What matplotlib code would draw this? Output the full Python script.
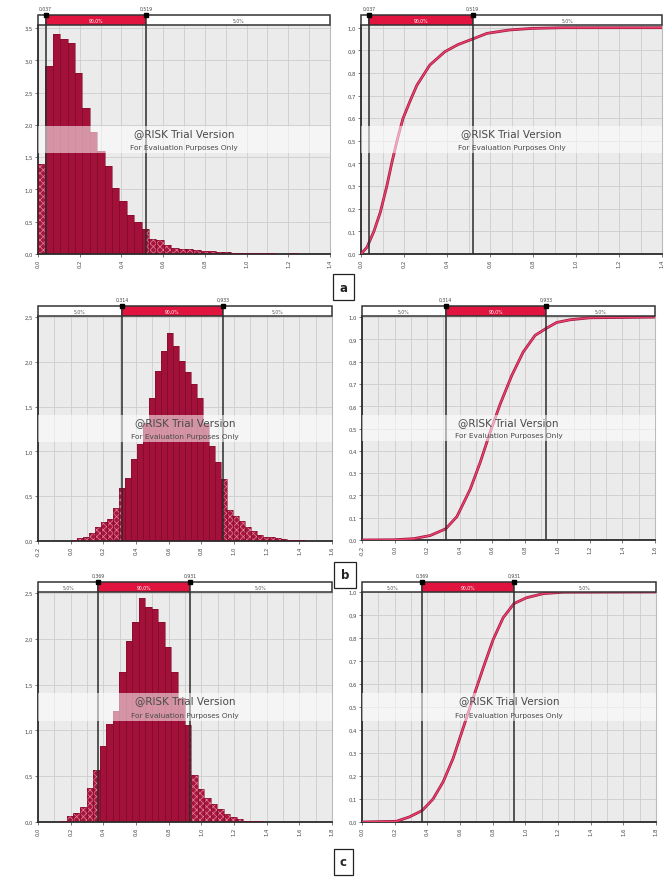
import numpy as np
import matplotlib.pyplot as plt
from matplotlib.patches import Rectangle

plt.rcParams['font.family'] = ['DejaVu Sans']
plt.rcParams['hatch.linewidth'] = 0.5

# Histogramas: inicio del primer intervalo, ancho y densidad de cada barra
a_inicio, a_ancho = 0.0, 0.0355
a_dens = [1.40, 2.92, 3.41, 3.34, 3.27, 2.80, 2.26, 1.89, 1.60, 1.37,
          1.03, 0.82, 0.60, 0.49, 0.39, 0.24, 0.21, 0.14, 0.10, 0.08,
          0.08, 0.06, 0.04, 0.04, 0.03, 0.03, 0.02, 0.02, 0.015, 0.01,
          0.01, 0.01, 0.006, 0.006, 0.01, 0.005, 0.003, 0.003]
b_inicio, b_ancho = -0.035, 0.0367
b_dens = [0.005, 0.01, 0.03, 0.05, 0.09, 0.16, 0.21, 0.25, 0.37, 0.59,
          0.70, 0.91, 1.08, 1.32, 1.60, 1.90, 2.12, 2.32, 2.18, 2.01,
          1.89, 1.75, 1.59, 1.31, 1.06, 0.88, 0.69, 0.35, 0.28, 0.22,
          0.16, 0.11, 0.07, 0.05, 0.04, 0.03, 0.02, 0.015, 0.01, 0.008]
c_inicio, c_ancho = 0.137, 0.04
c_dens = [0.01, 0.07, 0.10, 0.16, 0.37, 0.57, 0.83, 1.07, 1.21, 1.64,
          1.98, 2.18, 2.44, 2.35, 2.32, 2.18, 1.91, 1.64, 1.35, 1.06,
          0.51, 0.36, 0.26, 0.20, 0.14, 0.09, 0.05, 0.03, 0.015, 0.01,
          0.008, 0.005]

# Curvas acumuladas
a_cdf_x = [0.0, 0.028, 0.06, 0.09, 0.12, 0.144, 0.17, 0.195, 0.23, 0.26,
           0.32, 0.39, 0.45, 0.519, 0.586, 0.69, 0.795, 0.94, 1.1, 1.4]
a_cdf_y = [0.0, 0.03, 0.10, 0.185, 0.30, 0.406, 0.51, 0.598, 0.68, 0.746,
           0.835, 0.894, 0.925, 0.95, 0.975, 0.99, 0.997, 1.0, 1.0, 1.0]
b_cdf_x = [-0.2, 0.0, 0.117, 0.219, 0.314, 0.383, 0.465, 0.526, 0.587,
           0.649, 0.72, 0.79, 0.863, 0.933, 0.996, 1.078, 1.2, 1.6]
b_cdf_y = [0.0, 0.001, 0.006, 0.02, 0.05, 0.105, 0.228, 0.348, 0.483,
           0.61, 0.738, 0.843, 0.918, 0.95, 0.976, 0.988, 0.997, 1.0]
c_cdf_x = [0.0, 0.21, 0.29, 0.369, 0.435, 0.497, 0.558, 0.619, 0.68,
           0.742, 0.803, 0.864, 0.931, 1.007, 1.11, 1.232, 1.8]
c_cdf_y = [0.0, 0.003, 0.022, 0.05, 0.10, 0.175, 0.277, 0.408, 0.539,
           0.67, 0.793, 0.888, 0.95, 0.975, 0.993, 0.999, 1.0]

# Percentiles 5% y 95%
a_p5, a_p95 = 0.037, 0.519
b_p5, b_p95 = 0.314, 0.933
c_p5, c_p95 = 0.369, 0.931
etiquetas_banda = ['5,0%', '90,0%', '5,0%']

W, H = 666, 879
rojo = '#a3113a'
rojo_banda = '#e0143f'
fig = plt.figure(figsize=(W / 100, H / 100), dpi=100)


def caja(x0, y0, x1, y1):
    return [x0 / W, 1 - y1 / H, (x1 - x0) / W, (y1 - y0) / H]


def coma(v):
    return ('%.1f' % v).replace('.', ',')


def ejes(x0, y0, x1, y1, xlim, ylim, ydiv, p5, p95):
    ax = fig.add_axes(caja(x0, y0, x1, y1))
    ax.set_facecolor('#ebebeb')
    ax.set_xlim(xlim)
    ax.set_ylim(ylim)
    xt = np.arange(xlim[0], xlim[1] + 0.01, 0.2)
    ax.set_xticks(xt)
    ax.set_xticklabels([coma(v) for v in xt], rotation=90)
    ax.set_xticks(np.arange(xlim[0], xlim[1] + 0.01, 0.1), minor=True)
    yt = np.arange(0, ylim[1] + 0.001, ydiv)
    ax.set_yticks(yt)
    ax.set_yticklabels([coma(v) for v in yt])
    ax.tick_params(labelsize=3.8, colors='#444', length=2, width=0.5, pad=1.5)
    ax.tick_params(which='minor', length=0)
    ax.grid(which='both', color='#cdcdcd', lw=0.6)
    ax.set_axisbelow(True)
    for s in ['left', 'bottom']:
        ax.spines[s].set_color('#2a2a2a')
        ax.spines[s].set_linewidth(1.3)
    ax.spines['top'].set_visible(False)
    ax.spines['right'].set_color('#bbbbbb')
    ax.axvline(p5, color='#2a2a2a', lw=1.1, zorder=4)
    ax.axvline(p95, color='#2a2a2a', lw=1.1, zorder=4)

    # marca de agua
    ax.add_patch(Rectangle((0, 0.44), 1, 0.12, transform=ax.transAxes,
                           color='white', alpha=0.55, lw=0, zorder=5))
    ax.text(0.5, 0.528, '@RISK Trial Version', transform=ax.transAxes,
            ha='center', va='center', fontsize=7.5, color='#4a4a4a', zorder=6)
    ax.text(0.5, 0.467, 'For Evaluation Purposes Only', transform=ax.transAxes,
            ha='center', va='center', fontsize=5.3, color='#4a4a4a', zorder=6)

    # banda de percentiles
    bd = fig.add_axes(caja(x0, y0 - 10, x1, y0))
    bd.set_xlim(xlim)
    bd.set_ylim(0, 1)
    bd.axis('off')
    tramos = [(xlim[0], p5, 'white', '#555'), (p5, p95, rojo_banda, 'white'),
              (p95, xlim[1], 'white', '#555')]
    for (t0, t1, fc, tc), txt in zip(tramos, etiquetas_banda):
        bd.add_patch(Rectangle((t0, 0), t1 - t0, 1, fc=fc, ec='#333', lw=1.1,
                               clip_on=False))
        if t1 - t0 > 0.08:
            bd.text((t0 + t1) / 2, 0.5, txt, ha='center', va='center',
                    fontsize=3.3, color=tc)
    for p in (p5, p95):
        bd.plot([p], [1], 's', ms=2.6, color='black', clip_on=False)
        bd.text(p, 1.45, ('%.3f' % p).replace('.', ','), ha='center',
                va='bottom', fontsize=3.3, color='#444')
    return ax


def histograma(ax, inicio, ancho, dens, p5, p95):
    bordes = inicio + ancho * np.arange(len(dens) + 1)
    for i, h in enumerate(dens):
        x0, x1 = bordes[i], bordes[i + 1]
        li, ld = max(x0, p5), min(x1, p95)
        if ld > li:
            ax.bar(li, h, ld - li, align='edge', color=rojo, lw=0, zorder=2)
        if x0 < p5:
            ax.bar(x0, h, min(x1, p5) - x0, align='edge', facecolor='#a8153d',
                   edgecolor='#e27f9b', hatch='xxxxx', lw=0, zorder=2)
        if x1 > p95:
            ax.bar(max(x0, p95), h, x1 - max(x0, p95), align='edge',
                   facecolor='#a8153d', edgecolor='#e27f9b', hatch='xxxxx',
                   lw=0, zorder=2)
    ax.bar(bordes[:-1], dens, ancho, align='edge', fill=False,
           edgecolor='#7d0d28', lw=0.4, zorder=3)


def acumulada(ax, xs, ys):
    ax.plot(xs, ys, color='#9a1840', lw=2.0, zorder=3)
    ax.plot(xs, ys, color='#f0406e', lw=1.0, zorder=3)


# fila a
ax1 = ejes(38, 26, 330, 255, (0.0, 1.4), (0, 3.55), 0.5, a_p5, a_p95)
histograma(ax1, a_inicio, a_ancho, a_dens, a_p5, a_p95)
ax2 = ejes(361, 26, 662, 255, (0.0, 1.4), (0, 1.012), 0.1, a_p5, a_p95)
acumulada(ax2, a_cdf_x, a_cdf_y)

# fila b
ax3 = ejes(38, 317, 332, 542, (-0.2, 1.6), (0, 2.51), 0.5, b_p5, b_p95)
histograma(ax3, b_inicio, b_ancho, b_dens, b_p5, b_p95)
ax4 = ejes(362, 317, 655, 541, (-0.2, 1.6), (0, 1.005), 0.1, b_p5, b_p95)
acumulada(ax4, b_cdf_x, b_cdf_y)

# fila c
ax5 = ejes(38, 593, 332, 823, (0.0, 1.8), (0, 2.51), 0.5, c_p5, c_p95)
histograma(ax5, c_inicio, c_ancho, c_dens, c_p5, c_p95)
ax6 = ejes(362, 593, 656, 823, (0.0, 1.8), (0, 1.0), 0.1, c_p5, c_p95)
acumulada(ax6, c_cdf_x, c_cdf_y)

# letras de cada fila
for letra, (cx, cy) in zip('abc', [(343.5, 288), (345, 576), (343.5, 863)]):
    fig.text(cx / W, 1 - cy / H, letra, ha='center', va='center',
             fontsize=8.5, fontweight='bold', color='#222',
             bbox=dict(boxstyle='square,pad=0.55', fc='white', ec='#222', lw=0.9))

plt.savefig('out.png', dpi=100)
